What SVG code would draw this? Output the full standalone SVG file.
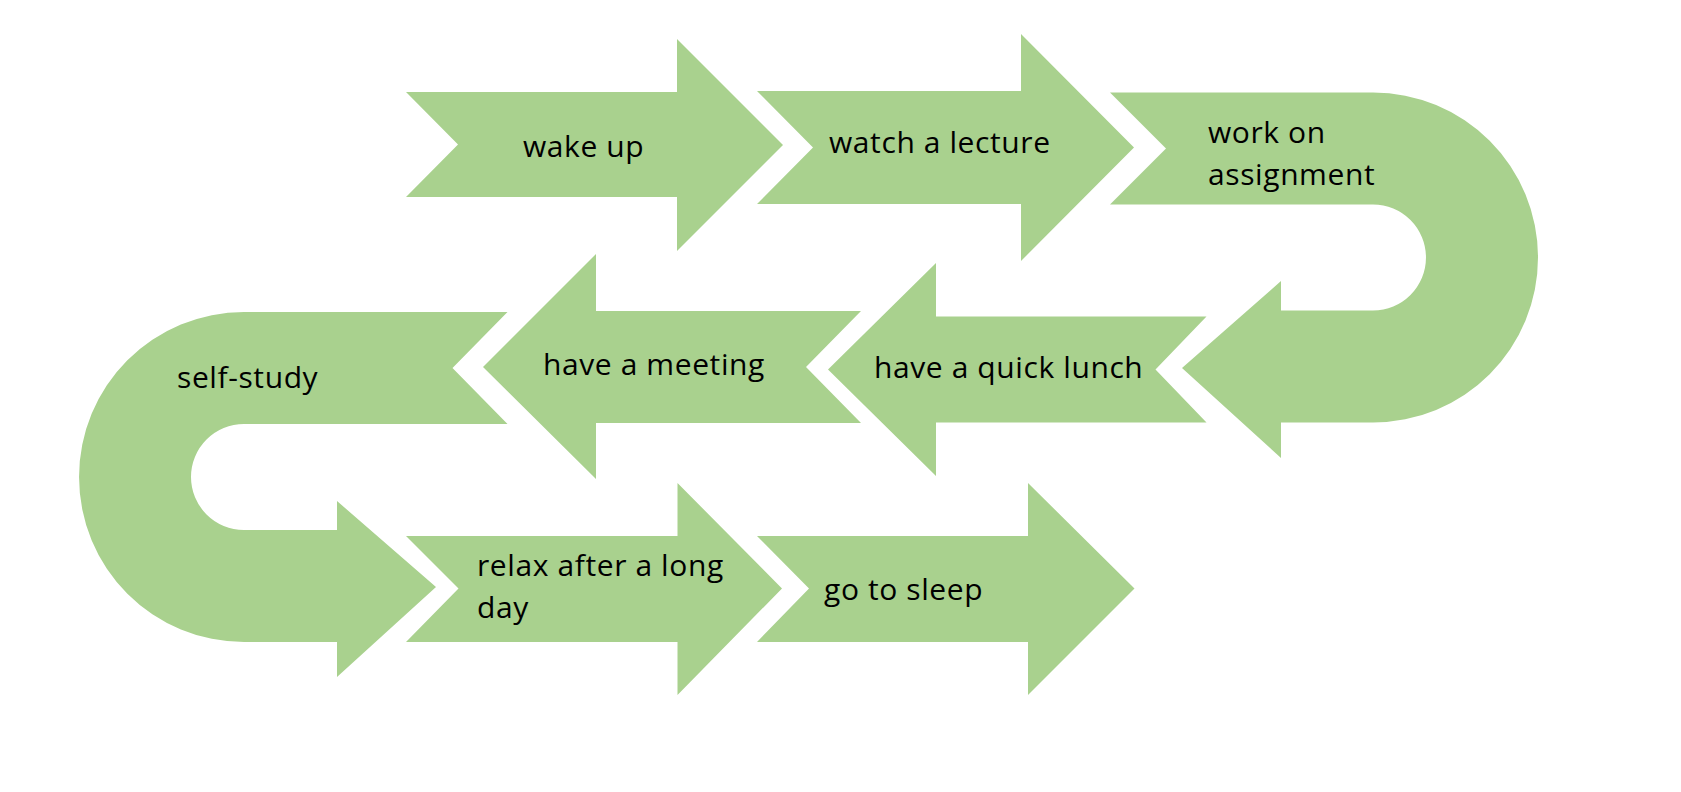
<svg xmlns="http://www.w3.org/2000/svg" width="1681" height="792" viewBox="0 0 1681 792">
<style>
.shape{fill:#A9D18E;stroke:none}
.lbl{font-family:"Open Sans","Noto Sans","Liberation Sans",sans-serif;font-size:30px;letter-spacing:0.6px;fill:#000}
</style>
<rect x="0" y="0" width="1681" height="792" fill="#ffffff"/>
<g id="connectors"></g>
<g id="node-wake-up">
<path class="shape" d="M406,92 L677,92 L677,39 L783,145 L677,251 L677,197 L406,197 L458,144.5 Z"/>
<text class="lbl" x="523" y="157">wake up</text>
</g>
<g id="node-watch-lecture">
<path class="shape" d="M757,91 L1021,91 L1021,34 L1134,147.5 L1021,261 L1021,204 L757,204 L813,147.5 Z"/>
<text class="lbl" x="829" y="153">watch a lecture</text>
</g>
<g id="node-work-assignment">
<path class="shape" d="M1110,92.5 L1373,92.5 A165,165 0 0 1 1373,422.5 L1281,422.5 L1281,458 L1182,368 L1281,281 L1281,310.5 L1373,310.5 A53,53 0 0 0 1373,204.5 L1110,204.5 L1166,148.5 Z"/>
<text class="lbl" x="1208" y="143">work on</text>
<text class="lbl" x="1208" y="184.5">assignment</text>
</g>
<g id="node-quick-lunch">
<path class="shape" d="M1206.5,316.5 L936,316.5 L936,263 L828,369.5 L936,476 L936,422.5 L1206.5,422.5 L1155.5,369.5 Z"/>
<text class="lbl" x="874" y="378">have a quick lunch</text>
</g>
<g id="node-meeting">
<path class="shape" d="M861,311 L596,311 L596,254 L483,367 L596,479 L596,423 L861,423 L806,367 Z"/>
<text class="lbl" x="543" y="374.5">have a meeting</text>
</g>
<g id="node-self-study">
<path class="shape" d="M507.5,312 L244,312 A165,165 0 0 0 244,642 L337,642 L337,677 L436,587 L337,501 L337,530 L244,530 A53,53 0 0 1 244,424 L507.5,424 L452.5,368 Z"/>
<text class="lbl" x="177" y="387.5">self-study</text>
</g>
<g id="node-relax">
<path class="shape" d="M406,536 L677.5,536 L677.5,483 L782,588.5 L677.5,695 L677.5,642 L406,642 L458.5,588.5 Z"/>
<text class="lbl" x="477" y="576">relax after a long</text>
<text class="lbl" x="477" y="618">day</text>
</g>
<g id="node-sleep">
<path class="shape" d="M757,536 L1028,536 L1028,483 L1134.5,588.5 L1028,695 L1028,642 L757,642 L809,588.5 Z"/>
<text class="lbl" x="824" y="600">go to sleep</text>
</g>
</svg>
